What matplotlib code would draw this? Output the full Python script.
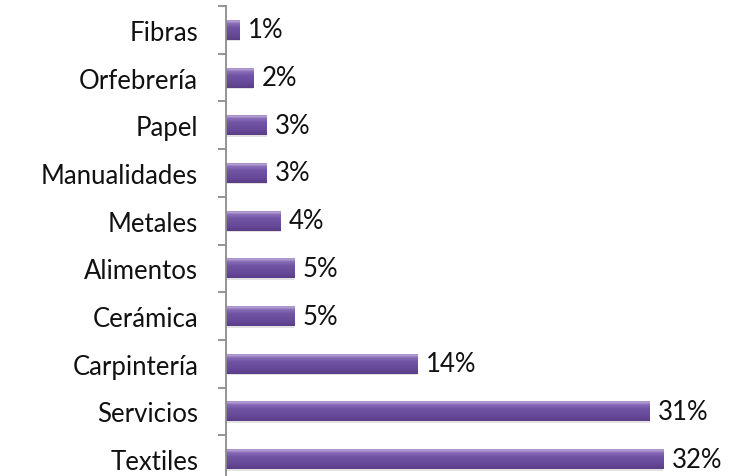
import numpy as np
import matplotlib.pyplot as plt
from matplotlib.colors import LinearSegmentedColormap

categories = ['Textiles', 'Servicios', 'Carpintería', 'Cerámica', 'Alimentos',
              'Metales', 'Manualidades', 'Papel', 'Orfebrería', 'Fibras']
values = [32, 31, 14, 5, 5, 4, 3, 3, 2, 1]

plt.rcParams['font.family'] = ['Lato', 'DejaVu Sans']

fig = plt.figure(figsize=(7.42, 4.77), dpi=100)
ax = fig.add_axes([0.3046, -0.0147, 0.663, 1.0])

# vertical shading for the bars: light rim on top, darker underside
shade = LinearSegmentedColormap.from_list(
    'bar_shade',
    [(0.0, '#5a3d85'), (0.25, '#67499a'), (0.6, '#7254a6'),
     (0.8, '#8a6fb8'), (0.9, '#b8a4d6'), (1.0, '#8e76b8')])
grad = np.linspace(0, 1, 64).reshape(-1, 1)

bar_h = 0.42
y = np.arange(len(categories))
bars = ax.barh(y, values, height=bar_h, color='none', edgecolor='none')
for yi, v, b in zip(y, values, bars):
    # soft shadow underneath
    ax.barh(yi - 0.03, v, height=bar_h, color='#cfcfcf', alpha=0.6, zorder=1)
    im = ax.imshow(grad, cmap=shade, aspect='auto', origin='lower',
                   extent=[0, v, yi - bar_h / 2, yi + bar_h / 2], zorder=2)
    im.set_clip_path(b)
    b.set_zorder(2)
    ax.text(v + 0.6, yi, f'{v}%', va='center', ha='left', fontsize=18.5,
            color='#111111')

ax.set_xlim(0, 36)
ax.set_ylim(-0.5, len(categories) - 0.5)

ax.set_yticks(y)
ax.set_yticklabels(categories, fontsize=18.5, color='#111111')
ax.tick_params(axis='y', which='major', length=0, pad=20)
ax.set_yticks(np.arange(-0.5, len(categories), 1), minor=True)
ax.tick_params(axis='y', which='minor', length=6, width=1.3, color='#8c8c8c')
ax.set_xticks([])

for side in ('top', 'right', 'bottom'):
    ax.spines[side].set_visible(False)
ax.spines['left'].set_color('#8c8c8c')
ax.spines['left'].set_linewidth(1.3)

fig.savefig('out.png', dpi=100)
